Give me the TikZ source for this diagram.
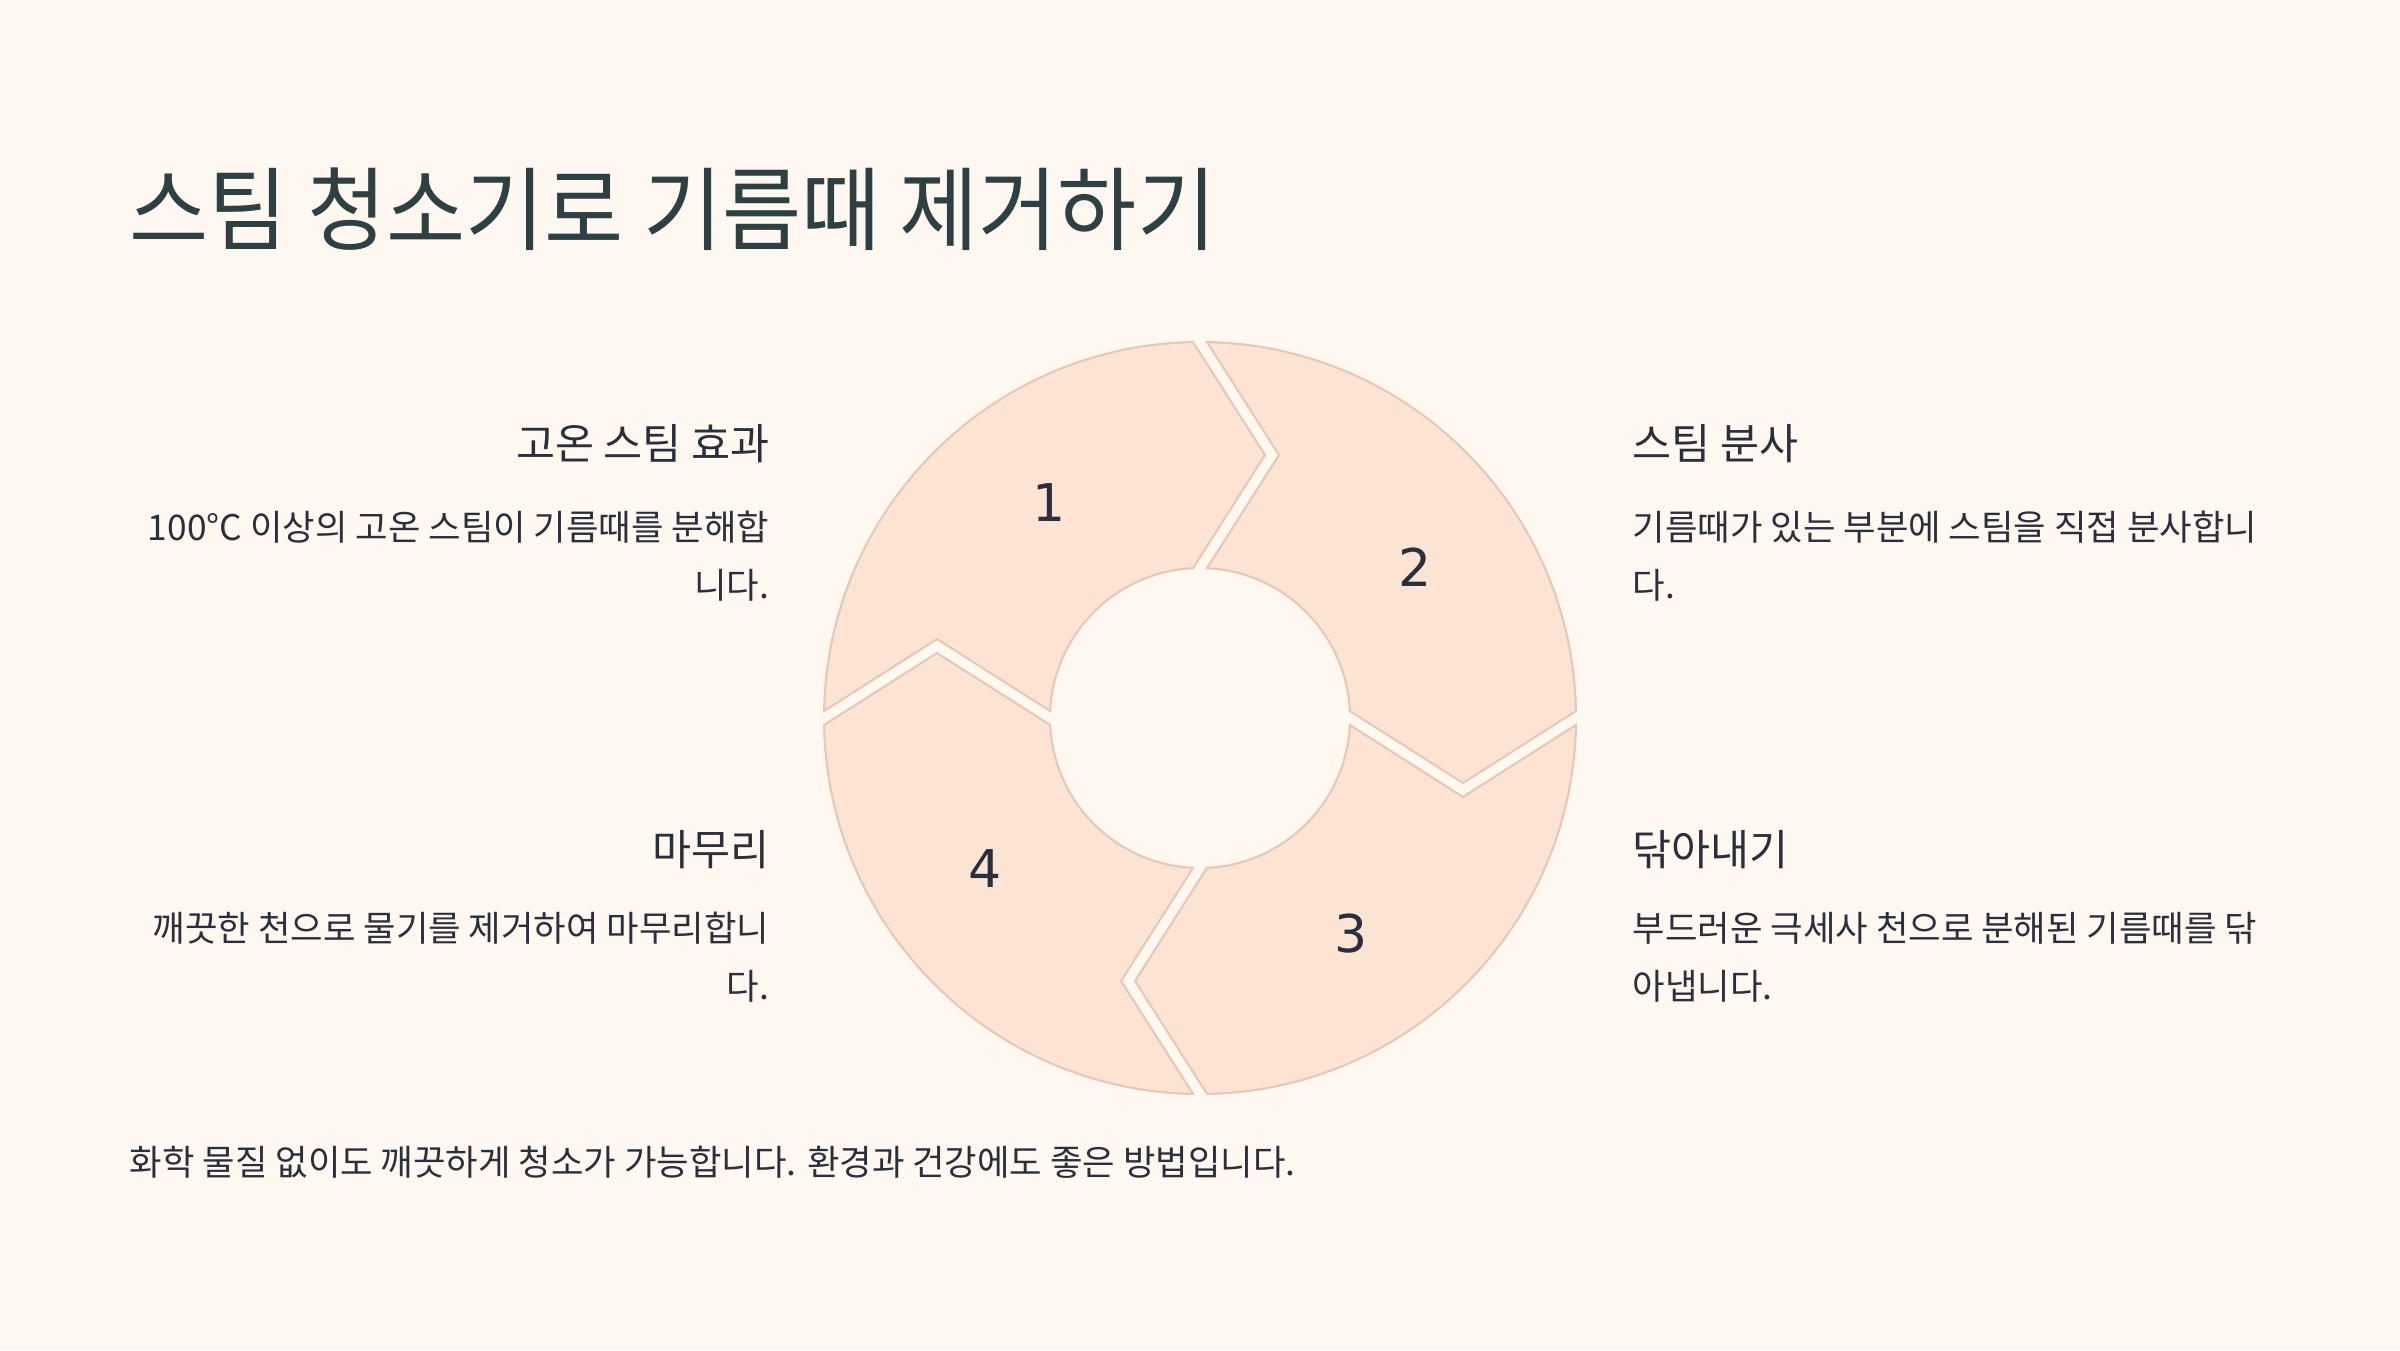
\documentclass[tikz,border=0pt]{standalone}
\usepackage{fontspec}
\setmainfont{Noto Sans CJK KR}
\newfontfamily\titlefont[FakeStretch=0.945]{Noto Sans CJK KR}
\newfontfamily\numfont{DejaVu Sans}
\usetikzlibrary{positioning}
\definecolor{bgcream}{HTML}{FFF8F1}
\definecolor{piecefill}{HTML}{FCE4D4}
\definecolor{pieceline}{HTML}{E6C8B6}
\definecolor{titleink}{HTML}{2E4042}
\definecolor{bodyink}{HTML}{2B2E3B}
\providecommand{\ringpiece}[1]{%
  \draw[piece] ({#1+90-1.07}:3.76)
    arc[start angle={#1+90-1.07}, end angle={#1+1.07}, radius=3.76]
    -- ({#1-13.88}:2.709) -- ({#1+2.67}:1.50)
    arc[start angle={#1+2.67}, end angle={#1+90-2.67}, radius=1.50]
    -- ({#1+90-16.72}:2.746) -- cycle;%
}

\begin{document}
\begin{tikzpicture}[
  piece/.style={fill=piecefill, draw=pieceline, line width=0.6pt, line join=miter},
  heading/.style={text=bodyink, inner sep=0pt, font=\fontsize{12.07pt}{15pt}\selectfont},
  body/.style={text=bodyink, inner sep=0pt, align=#1,
               font=\fontsize{10.05pt}{16.5pt}\selectfont},
  stepnum/.style={text=bodyink, inner sep=0pt, font=\numfont\fontsize{14.8pt}{16pt}\selectfont}
]
\fill[bgcream] (0,0) rectangle (24,13.5);
\useasboundingbox (0,0) rectangle (24,13.5);

\node[anchor=base west, inner sep=0pt, text=titleink,
      font=\titlefont\fontsize{25.9pt}{30pt}\selectfont] (title) at (1.29,11.06)
  {스팀 청소기로 기름때 제거하기};

\begin{scope}[shift={(12,6.32)}]
  \ringpiece{90}
  \ringpiece{0}
  \ringpiece{-90}
  \ringpiece{180}
  \node[stepnum] (n1) at (125:2.63) {1};
  \node[stepnum] (n2) at (35:2.63) {2};
  \node[stepnum] (n3) at (-55:2.63) {3};
  \node[stepnum] (n4) at (-145:2.63) {4};
\end{scope}

\node[heading, anchor=base east] (hot) at (7.70,8.91) {고온 스팀 효과};
\node[body=right, anchor=base east] (hottxt) at (7.70,7.52)
  {100°C 이상의 고온 스팀이 기름때를 분해합\\니다.};

\node[heading, anchor=base west] (spray) at (16.32,8.91) {스팀 분사};
\node[body=left, anchor=base west] (spraytxt) at (16.32,7.52)
  {기름때가 있는 부분에 스팀을 직접 분사합니\\다.};

\node[heading, anchor=base east] (finish) at (7.70,4.85) {마무리};
\node[body=right, anchor=base east] (finishtxt) at (7.70,3.51)
  {깨끗한 천으로 물기를 제거하여 마무리합니\\다.};

\node[heading, anchor=base west] (wipe) at (16.32,4.85) {닦아내기};
\node[body=left, anchor=base west] (wipetxt) at (16.32,3.51)
  {부드러운 극세사 천으로 분해된 기름때를 닦\\아냅니다.};

\node[anchor=base west, inner sep=0pt, text=bodyink,
      font=\fontsize{10.05pt}{16.5pt}\selectfont] (footer) at (1.29,1.75)
  {화학 물질 없이도 깨끗하게 청소가 가능합니다. 환경과 건강에도 좋은 방법입니다.};
\end{tikzpicture}
\end{document}
